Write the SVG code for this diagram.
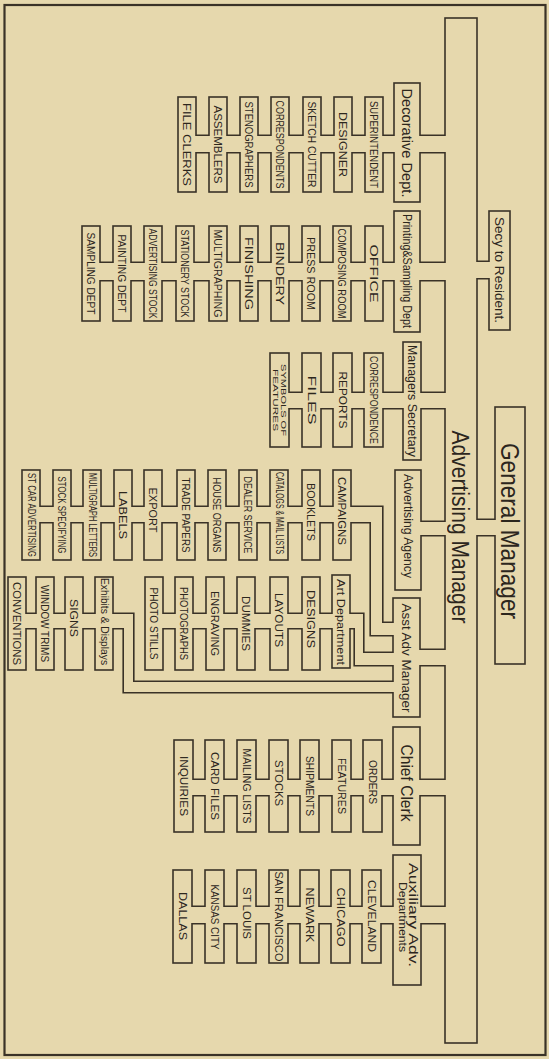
<svg xmlns="http://www.w3.org/2000/svg" xmlns:xlink="http://www.w3.org/1999/xlink" width="549" height="1059" viewBox="0 0 549 1059">
<style>
.bg{fill:#e6d8ad}
.frame{fill:none;stroke:#3a3227;stroke-width:2.2}
.box{fill:#e6d8ad;stroke:#3a3227;stroke-width:1.6}
.t{font-family:"Liberation Sans",Arial,sans-serif;fill:#2c261d;text-anchor:middle;dominant-baseline:central}
.s{font-size:11px}
.m{font-size:12.5px}
</style>
<rect class="bg" x="0" y="0" width="549" height="1059"/>
<rect class="frame" x="4.5" y="5" width="541" height="1050"/>

<g id="connector-walls" stroke="#3a3227" stroke-width="3.2" stroke-linejoin="miter">
<g id="connectors" fill="#e6d8ad">
<path id="c-top" d="M475 262H491V278H475Z M475 520H497V535H475Z"/>
<path id="c-bar" d="M418 136H447V152H418Z M418 263H447V280H418Z M419 393H447V408H419Z M419 522H447V535H419Z M418 650H447V665H418Z M418 780H447V795H418Z M419 907H447V923H419Z"/>
<path id="c-decorative" d="M194 136H211V152H194Z M225 136H242V152H225Z M256 136H273V152H256Z M287 136H305V152H287Z M319 136H336V152H319Z M350 136H367V152H350Z M381 136H396V152H381Z"/>
<path id="c-printing" d="M98 263H115V280H98Z M129 263H146V280H129Z M160 263H178V280H160Z M192 263H211V280H192Z M225 263H242V280H225Z M256 263H273V280H256Z M287 263H304V280H287Z M318 263H335V280H318Z M349 263H367V280H349Z M381 263H396V280H381Z"/>
<path id="c-secretary" d="M287 393H304V408H287Z M319 393H335V408H319Z M350 393H366V408H350Z M381 393H405V408H381Z"/>
<path id="c-campaigns" d="M38 507H55V522H38Z M69 507H85V522H69Z M99 507H116V522H99Z M130 507H146V522H130Z M160 507H179V522H160Z M193 507H210V522H193Z M224 507H241V522H224Z M255 507H272V522H255Z M286 507H304V522H286Z M318 507H335V522H318Z M349 507H382V623H395V635H371V522H349Z"/>
<path id="c-art" d="M161 614H177V628H161Z M191 614H208V628H191Z M222 614H239V628H222Z M253 614H272V628H253Z M286 614H304V628H286Z M318 614H334V628H318Z M348 614H363V653H395V665H355V628H348Z"/>
<path id="c-exhibits" d="M24 614H38V628H24Z M52 614H67V628H52Z M81 614H97V628H81Z M111 614H133V682H395V692H124V628H111Z"/>
<path id="c-clerk" d="M191 780H207V795H191Z M222 780H239V795H222Z M254 780H271V795H254Z M286 780H302V795H286Z M317 780H334V795H317Z M349 780H365V795H349Z M380 780H395V795H380Z"/>
<path id="c-cities" d="M190 907H207V923H190Z M222 907H239V923H222Z M254 907H271V923H254Z M286 907H302V923H286Z M317 907H333V923H317Z M348 907H364V923H348Z M379 907H395V923H379Z"/>
</g>
</g>

<g id="n-general-manager"><rect class="box" x="495" y="407" width="30" height="257"/><text class="t" font-size="25" transform="translate(510 531) rotate(90)" textLength="176" lengthAdjust="spacingAndGlyphs">General Manager</text></g>
<g id="n-advertising-manager"><rect class="box" x="445" y="18" width="32" height="1025"/><text class="t" font-size="23" transform="translate(460 527) rotate(90)" textLength="193" lengthAdjust="spacingAndGlyphs">Advertising Manager</text></g>
<g id="n-secy"><rect class="box" x="489" y="211" width="21" height="119"/><text class="t" font-size="13" transform="translate(499.5 270) rotate(90)" textLength="106" lengthAdjust="spacingAndGlyphs">Secy to Resident.</text></g>
<g id="n-decorative"><rect class="box" x="394" y="83" width="26" height="119"/><text class="t" font-size="15" transform="translate(407 143) rotate(90)" textLength="109" lengthAdjust="spacingAndGlyphs">Decorative Dept.</text></g>
<g id="n-printing"><rect class="box" x="394" y="211" width="26" height="121"/><text class="t" font-size="13" transform="translate(407 271) rotate(90)" textLength="114" lengthAdjust="spacingAndGlyphs">Printing&amp;Sampling Dept</text></g>
<g id="n-managers-secretary"><rect class="box" x="403" y="342" width="18" height="118"/><text class="t" font-size="12" transform="translate(412 401) rotate(90)" textLength="112" lengthAdjust="spacingAndGlyphs">Managers Secretary</text></g>
<g id="n-advertising-agency"><rect class="box" x="395" y="470" width="26" height="120"/><text class="t" font-size="12" transform="translate(408 526) rotate(90)" textLength="104" lengthAdjust="spacingAndGlyphs">Advertising Agency</text></g>
<g id="n-asst-adv-manager"><rect class="box" x="393" y="598" width="27" height="119"/><text class="t" font-size="13" transform="translate(406.5 658) rotate(90)" textLength="109" lengthAdjust="spacingAndGlyphs">Asst Adv Manager</text></g>
<g id="n-art-department"><rect class="box" x="332" y="575" width="18" height="93"/><text class="t" font-size="11" transform="translate(341 622) rotate(90)" textLength="86" lengthAdjust="spacingAndGlyphs">Art Department</text></g>
<g id="n-chief-clerk"><rect class="box" x="393" y="727" width="27" height="118"/><text class="t" font-size="17" transform="translate(406.5 783) rotate(90)" textLength="77" lengthAdjust="spacingAndGlyphs">Chief Clerk</text></g>
<g id="n-auxiliary"><rect class="box" x="393" y="855" width="28" height="130"/><text class="t" font-size="12" transform="translate(413 915) rotate(90)" textLength="104" lengthAdjust="spacingAndGlyphs">Auxiliary Adv.</text><text class="t" font-size="10" transform="translate(402 917) rotate(90)" textLength="70" lengthAdjust="spacingAndGlyphs">Departments</text></g>

<g id="n-file-clerks"><rect class="box" x="178" y="97" width="18" height="95"/><text class="t s" transform="translate(187 144.5) rotate(90)" textLength="83" lengthAdjust="spacingAndGlyphs">FILE CLERKS</text></g>
<g id="n-assemblers"><rect class="box" x="209" y="97" width="18" height="95"/><text class="t s" transform="translate(218 144.5) rotate(90)" textLength="78" lengthAdjust="spacingAndGlyphs">ASSEMBLERS</text></g>
<g id="n-stenographers"><rect class="box" x="240" y="97" width="18" height="95"/><text class="t s" transform="translate(249 144.5) rotate(90)" textLength="86" lengthAdjust="spacingAndGlyphs">STENOGRAPHERS</text></g>
<g id="n-correspondents"><rect class="box" x="271" y="97" width="18" height="95"/><text class="t s" transform="translate(280 144.5) rotate(90)" textLength="88" lengthAdjust="spacingAndGlyphs">CORRESPONDENTS</text></g>
<g id="n-sketch-cutter"><rect class="box" x="303" y="97" width="18" height="95"/><text class="t s" transform="translate(312 144.5) rotate(90)" textLength="86" lengthAdjust="spacingAndGlyphs">SKETCH CUTTER</text></g>
<g id="n-designer"><rect class="box" x="334" y="97" width="18" height="95"/><text class="t s" transform="translate(343 144.5) rotate(90)" textLength="65" lengthAdjust="spacingAndGlyphs">DESIGNER</text></g>
<g id="n-superintendent"><rect class="box" x="365" y="97" width="18" height="95"/><text class="t s" transform="translate(374 144.5) rotate(90)" textLength="87" lengthAdjust="spacingAndGlyphs">SUPERINTENDENT</text></g>

<g id="n-sampling-dept"><rect class="box" x="82" y="226" width="18" height="95"/><text class="t s" transform="translate(91 273.5) rotate(90)" textLength="82" lengthAdjust="spacingAndGlyphs">SAMPLING DEPT</text></g>
<g id="n-painting-dept"><rect class="box" x="113" y="226" width="18" height="95"/><text class="t s" transform="translate(122 273.5) rotate(90)" textLength="78" lengthAdjust="spacingAndGlyphs">PAINTING DEPT</text></g>
<g id="n-advertising-stock"><rect class="box" x="144" y="226" width="18" height="95"/><text class="t s" transform="translate(153 273.5) rotate(90)" textLength="90" lengthAdjust="spacingAndGlyphs">ADVERTISING STOCK</text></g>
<g id="n-stationery-stock"><rect class="box" x="176" y="226" width="18" height="95"/><text class="t s" transform="translate(185 273.5) rotate(90)" textLength="88" lengthAdjust="spacingAndGlyphs">STATIONERY STOCK</text></g>
<g id="n-multigraphing"><rect class="box" x="209" y="226" width="18" height="95"/><text class="t s" transform="translate(218 273.5) rotate(90)" textLength="88" lengthAdjust="spacingAndGlyphs">MULTIGRAPHING</text></g>
<g id="n-finishing"><rect class="box" x="240" y="226" width="18" height="95"/><text class="t s" transform="translate(249 273.5) rotate(90)" textLength="73" lengthAdjust="spacingAndGlyphs">FINISHING</text></g>
<g id="n-bindery"><rect class="box" x="271" y="226" width="18" height="95"/><text class="t s" transform="translate(280 273.5) rotate(90)" textLength="63" lengthAdjust="spacingAndGlyphs">BINDERY</text></g>
<g id="n-press-room"><rect class="box" x="302" y="226" width="18" height="95"/><text class="t s" transform="translate(311 273.5) rotate(90)" textLength="73" lengthAdjust="spacingAndGlyphs">PRESS ROOM</text></g>
<g id="n-composing-room"><rect class="box" x="333" y="226" width="18" height="95"/><text class="t s" transform="translate(342 273.5) rotate(90)" textLength="90" lengthAdjust="spacingAndGlyphs">COMPOSING ROOM</text></g>
<g id="n-office"><rect class="box" x="365" y="226" width="18" height="95"/><text class="t s" transform="translate(374 273.5) rotate(90)" textLength="58" lengthAdjust="spacingAndGlyphs">OFFICE</text></g>

<g id="n-symbols-of-features"><rect class="box" x="270" y="353" width="19" height="94"/><text class="t" font-size="8" transform="translate(283.5 400) rotate(90)" textLength="72" lengthAdjust="spacingAndGlyphs">SYMBOLS OF</text><text class="t" font-size="8" transform="translate(275.5 400) rotate(90)" textLength="62" lengthAdjust="spacingAndGlyphs">FEATURES</text></g>
<g id="n-files"><rect class="box" x="302" y="353" width="19" height="94"/><text class="t s" transform="translate(311.5 400) rotate(90)" textLength="49" lengthAdjust="spacingAndGlyphs">FILES</text></g>
<g id="n-reports"><rect class="box" x="333" y="353" width="19" height="94"/><text class="t s" transform="translate(342.5 400) rotate(90)" textLength="57" lengthAdjust="spacingAndGlyphs">REPORTS</text></g>
<g id="n-correspondence"><rect class="box" x="364" y="353" width="19" height="94"/><text class="t s" transform="translate(373.5 400) rotate(90)" textLength="88" lengthAdjust="spacingAndGlyphs">CORRESPONDENCE</text></g>

<g id="n-st-car-advertising"><rect class="box" x="22" y="470" width="18" height="90"/><text class="t" font-size="10" transform="translate(31 515) rotate(90)" textLength="84" lengthAdjust="spacingAndGlyphs">ST CAR ADVERTISING</text></g>
<g id="n-stock-specifying"><rect class="box" x="53" y="470" width="18" height="90"/><text class="t s" transform="translate(62 515) rotate(90)" textLength="77" lengthAdjust="spacingAndGlyphs">STOCK SPECIFYING</text></g>
<g id="n-multigraph-letters"><rect class="box" x="83" y="470" width="18" height="90"/><text class="t" font-size="10" transform="translate(92 515) rotate(90)" textLength="84" lengthAdjust="spacingAndGlyphs">MULTIGRAPH LETTERS</text></g>
<g id="n-labels"><rect class="box" x="114" y="470" width="18" height="90"/><text class="t s" transform="translate(123 515) rotate(90)" textLength="48" lengthAdjust="spacingAndGlyphs">LABELS</text></g>
<g id="n-export"><rect class="box" x="144" y="470" width="18" height="90"/><text class="t s" transform="translate(153 510) rotate(90)" textLength="45" lengthAdjust="spacingAndGlyphs">EXPORT</text></g>
<g id="n-trade-papers"><rect class="box" x="177" y="470" width="18" height="90"/><text class="t s" transform="translate(186 515) rotate(90)" textLength="75" lengthAdjust="spacingAndGlyphs">TRADE PAPERS</text></g>
<g id="n-house-organs"><rect class="box" x="208" y="470" width="18" height="90"/><text class="t s" transform="translate(217 515) rotate(90)" textLength="75" lengthAdjust="spacingAndGlyphs">HOUSE ORGANS</text></g>
<g id="n-dealer-service"><rect class="box" x="239" y="470" width="18" height="90"/><text class="t s" transform="translate(248 515) rotate(90)" textLength="77" lengthAdjust="spacingAndGlyphs">DEALER SERVICE</text></g>
<g id="n-catalogs"><rect class="box" x="270" y="470" width="18" height="90"/><text class="t" font-size="10" transform="translate(279 513) rotate(90)" textLength="82" lengthAdjust="spacingAndGlyphs">CATALOGS &amp; MAIL LISTS</text></g>
<g id="n-booklets"><rect class="box" x="302" y="470" width="18" height="90"/><text class="t s" transform="translate(311 512) rotate(90)" textLength="58" lengthAdjust="spacingAndGlyphs">BOOKLETS</text></g>
<g id="n-campaigns"><rect class="box" x="333" y="470" width="18" height="90"/><text class="t s" transform="translate(342 511) rotate(90)" textLength="68" lengthAdjust="spacingAndGlyphs">CAMPAIGNS</text></g>

<g id="n-photo-stills"><rect class="box" x="145" y="577" width="18" height="93"/><text class="t s" transform="translate(154 623.5) rotate(90)" textLength="72" lengthAdjust="spacingAndGlyphs">PHOTO STILLS</text></g>
<g id="n-photographs"><rect class="box" x="175" y="577" width="18" height="93"/><text class="t s" transform="translate(184 623.5) rotate(90)" textLength="73" lengthAdjust="spacingAndGlyphs">PHOTOGRAPHS</text></g>
<g id="n-engraving"><rect class="box" x="206" y="577" width="18" height="93"/><text class="t s" transform="translate(215 623.5) rotate(90)" textLength="65" lengthAdjust="spacingAndGlyphs">ENGRAVING</text></g>
<g id="n-dummies"><rect class="box" x="237" y="577" width="18" height="93"/><text class="t s" transform="translate(246 623.5) rotate(90)" textLength="55" lengthAdjust="spacingAndGlyphs">DUMMIES</text></g>
<g id="n-layouts"><rect class="box" x="270" y="577" width="18" height="93"/><text class="t s" transform="translate(279 620) rotate(90)" textLength="54" lengthAdjust="spacingAndGlyphs">LAYOUTS</text></g>
<g id="n-designs"><rect class="box" x="302" y="577" width="18" height="93"/><text class="t s" transform="translate(311 619) rotate(90)" textLength="58" lengthAdjust="spacingAndGlyphs">DESIGNS</text></g>

<g id="n-conventions"><rect class="box" x="8" y="577" width="18" height="93"/><text class="t s" transform="translate(17 623.5) rotate(90)" textLength="83" lengthAdjust="spacingAndGlyphs">CONVENTIONS</text></g>
<g id="n-window-trims"><rect class="box" x="36" y="577" width="18" height="93"/><text class="t s" transform="translate(45 623.5) rotate(90)" textLength="77" lengthAdjust="spacingAndGlyphs">WINDOW TRIMS</text></g>
<g id="n-signs"><rect class="box" x="65" y="577" width="18" height="93"/><text class="t s" transform="translate(74 618) rotate(90)" textLength="38" lengthAdjust="spacingAndGlyphs">SIGNS</text></g>
<g id="n-exhibits"><rect class="box" x="95" y="577" width="18" height="93"/><text class="t" font-size="10" transform="translate(104 621.5) rotate(90)" textLength="87" lengthAdjust="spacingAndGlyphs">Exhibits &amp; Displays</text></g>

<g id="n-inquiries"><rect class="box" x="174" y="740" width="19" height="92"/><text class="t s" transform="translate(183.5 786) rotate(90)" textLength="60" lengthAdjust="spacingAndGlyphs">INQUIRIES</text></g>
<g id="n-card-files"><rect class="box" x="205" y="740" width="19" height="92"/><text class="t s" transform="translate(214.5 786) rotate(90)" textLength="68" lengthAdjust="spacingAndGlyphs">CARD FILES</text></g>
<g id="n-mailing-lists"><rect class="box" x="237" y="740" width="19" height="92"/><text class="t s" transform="translate(246.5 786) rotate(90)" textLength="75" lengthAdjust="spacingAndGlyphs">MAILING LISTS</text></g>
<g id="n-stocks"><rect class="box" x="269" y="740" width="19" height="92"/><text class="t s" transform="translate(278.5 783) rotate(90)" textLength="46" lengthAdjust="spacingAndGlyphs">STOCKS</text></g>
<g id="n-shipments"><rect class="box" x="300" y="740" width="19" height="92"/><text class="t s" transform="translate(309.5 786) rotate(90)" textLength="60" lengthAdjust="spacingAndGlyphs">SHIPMENTS</text></g>
<g id="n-features"><rect class="box" x="332" y="740" width="19" height="92"/><text class="t s" transform="translate(341.5 786) rotate(90)" textLength="56" lengthAdjust="spacingAndGlyphs">FEATURES</text></g>
<g id="n-orders"><rect class="box" x="363" y="740" width="19" height="92"/><text class="t s" transform="translate(372.5 782) rotate(90)" textLength="44" lengthAdjust="spacingAndGlyphs">ORDERS</text></g>

<g id="n-dallas"><rect class="box" x="173" y="870" width="19" height="93"/><text class="t s" transform="translate(182.5 916) rotate(90)" textLength="48" lengthAdjust="spacingAndGlyphs">DALLAS</text></g>
<g id="n-kansas-city"><rect class="box" x="205" y="870" width="19" height="93"/><text class="t s" transform="translate(214.5 917) rotate(90)" textLength="65" lengthAdjust="spacingAndGlyphs">KANSAS CITY</text></g>
<g id="n-st-louis"><rect class="box" x="237" y="870" width="19" height="93"/><text class="t s" transform="translate(246.5 913) rotate(90)" textLength="52" lengthAdjust="spacingAndGlyphs">ST LOUIS</text></g>
<g id="n-san-francisco"><rect class="box" x="269" y="870" width="19" height="93"/><text class="t s" transform="translate(278.5 916.5) rotate(90)" textLength="90" lengthAdjust="spacingAndGlyphs">SAN FRANCISCO</text></g>
<g id="n-newark"><rect class="box" x="300" y="870" width="19" height="93"/><text class="t s" transform="translate(309.5 915) rotate(90)" textLength="55" lengthAdjust="spacingAndGlyphs">NEWARK</text></g>
<g id="n-chicago"><rect class="box" x="331" y="870" width="19" height="93"/><text class="t s" transform="translate(340.5 917) rotate(90)" textLength="59" lengthAdjust="spacingAndGlyphs">CHICAGO</text></g>
<g id="n-cleveland"><rect class="box" x="362" y="870" width="19" height="93"/><text class="t s" transform="translate(371.5 916) rotate(90)" textLength="72" lengthAdjust="spacingAndGlyphs">CLEVELAND</text></g>

<use id="connector-openings" href="#connectors" stroke="none"/>
</svg>
